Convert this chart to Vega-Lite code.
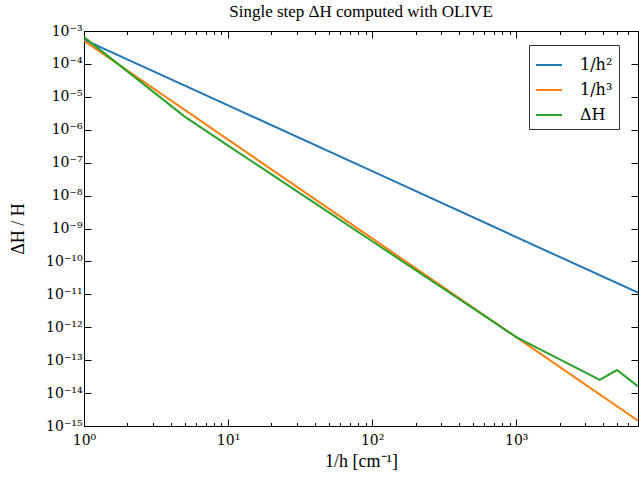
{
  "$schema": "https://vega.github.io/schema/vega-lite/v6.json",
  "width": 554,
  "height": 395,
  "autosize": {"type": "none"},
  "padding": {"left": 84, "top": 31, "right": 1, "bottom": 53},
  "background": "white",
  "config": {
    "font": "Liberation Serif",
    "view": {"stroke": "black", "strokeWidth": 1},
    "axis": {"domainColor": "black", "tickColor": "black", "labelColor": "black", "titleColor": "black", "grid": false, "labelFont": "DejaVu Serif", "titleFont": "Liberation Serif", "titleFontWeight": "normal"},
    "title": {"font": "Liberation Serif", "fontSize": 17, "fontWeight": "normal", "color": "black"}
  },
  "title": {"text": "Single step ΔH computed with OLIVE", "anchor": "middle", "offset": 3},
  "data": {
    "values": [
      {"series": "1/h²", "x": 1, "y": 5.5e-4},
      {"series": "1/h²", "x": 10, "y": 5.5e-6},
      {"series": "1/h²", "x": 100, "y": 5.5e-8},
      {"series": "1/h²", "x": 1000, "y": 5.5e-10},
      {"series": "1/h²", "x": 7000, "y": 1.12e-11},
      {"series": "1/h³", "x": 1, "y": 5.0e-4},
      {"series": "1/h³", "x": 10, "y": 5.0e-7},
      {"series": "1/h³", "x": 100, "y": 5.0e-10},
      {"series": "1/h³", "x": 1000, "y": 5.0e-13},
      {"series": "1/h³", "x": 7000, "y": 1.46e-15},
      {"series": "ΔH", "x": 1, "y": 6.5e-4},
      {"series": "ΔH", "x": 5, "y": 2.5e-6},
      {"series": "ΔH", "x": 10, "y": 3.3e-7},
      {"series": "ΔH", "x": 50, "y": 3.1e-9},
      {"series": "ΔH", "x": 100, "y": 4.1e-10},
      {"series": "ΔH", "x": 500, "y": 3.8e-12},
      {"series": "ΔH", "x": 1000, "y": 5.0e-13},
      {"series": "ΔH", "x": 3800, "y": 2.5e-14},
      {"series": "ΔH", "x": 5000, "y": 5.0e-14},
      {"series": "ΔH", "x": 7000, "y": 1.6e-14}
    ]
  },
  "layer": [
    {
      "mark": {"type": "line", "strokeWidth": 2, "clip": true},
      "encoding": {
        "x": {
          "field": "x", "type": "quantitative",
          "scale": {"type": "log", "domain": [1, 7000], "nice": false},
          "axis": {
            "title": "1/h [cm⁻¹]",
            "titleFontSize": 18,
            "titlePadding": 2,
            "labelFontSize": 14,
            "labelPadding": 14,
            "labelOverlap": false,
            "labelFlush": false,
            "values": [1,2,3,4,5,6,7,8,9,10,20,30,40,50,60,70,80,90,100,200,300,400,500,600,700,800,900,1000,2000,3000,4000,5000,6000,7000],
            "labelExpr": "abs(log(datum.value)/LN10 - round(log(datum.value)/LN10)) < 0.000001 ? '10' + ['⁰','¹','²','³','⁴'][round(log(datum.value)/LN10)] : ''",
            "tickSize": {"condition": {"test": "abs(log(datum.value)/LN10 - round(log(datum.value)/LN10)) < 0.000001", "value": -7}, "value": -3.5}
          }
        },
        "y": {
          "field": "y", "type": "quantitative",
          "scale": {"type": "log", "domain": [1e-15, 1e-3], "nice": false},
          "axis": {
            "title": "ΔH / H",
            "titleFontSize": 18,
            "titlePadding": 18,
            "labelFontSize": 14,
            "labelPadding": 9,
            "labelOverlap": false,
            "labelFlush": false,
            "tickSize": -7,
            "values": [1e-3,1e-4,1e-5,1e-6,1e-7,1e-8,1e-9,1e-10,1e-11,1e-12,1e-13,1e-14,1e-15],
            "labelExpr": "'10⁻' + (abs(round(log(datum.value)/LN10)) >= 10 ? '¹' : '') + ['⁰','¹','²','³','⁴','⁵','⁶','⁷','⁸','⁹'][abs(round(log(datum.value)/LN10)) % 10]"
          }
        },
        "color": {
          "field": "series", "type": "nominal",
          "scale": {"domain": ["1/h²", "1/h³", "ΔH"], "range": ["#1f77b4", "#ff7f0e", "#2ca02c"]},
          "legend": {
            "title": null,
            "orient": "none",
            "legendX": 445,
            "legendY": 14,
            "fillColor": "white",
            "strokeColor": "#333",
            "padding": 6,
            "symbolType": "stroke",
            "symbolSize": 676,
            "symbolStrokeWidth": 2,
            "labelFont": "DejaVu Serif",
            "labelFontSize": 16,
            "labelColor": "black",
            "labelOffset": 17,
            "rowPadding": 3
          }
        }
      }
    },
    {
      "mark": {"type": "line", "opacity": 0},
      "encoding": {
        "x": {
          "field": "x", "type": "quantitative",
          "scale": {"type": "log", "domain": [1, 7000], "nice": false},
          "axis": {
            "orient": "top", "title": null, "labels": false,
            "values": [1,2,3,4,5,6,7,8,9,10,20,30,40,50,60,70,80,90,100,200,300,400,500,600,700,800,900,1000,2000,3000,4000,5000,6000,7000],
            "tickSize": {"condition": {"test": "abs(log(datum.value)/LN10 - round(log(datum.value)/LN10)) < 0.000001", "value": -7}, "value": -3.5}
          }
        },
        "y": {
          "field": "y", "type": "quantitative",
          "scale": {"type": "log", "domain": [1e-15, 1e-3], "nice": false},
          "axis": {
            "orient": "right", "title": null, "labels": false, "tickSize": -7,
            "values": [1e-3,1e-4,1e-5,1e-6,1e-7,1e-8,1e-9,1e-10,1e-11,1e-12,1e-13,1e-14,1e-15]
          }
        }
      }
    }
  ],
  "resolve": {"scale": {"x": "independent", "y": "independent"}, "axis": {"x": "independent", "y": "independent"}}
}
